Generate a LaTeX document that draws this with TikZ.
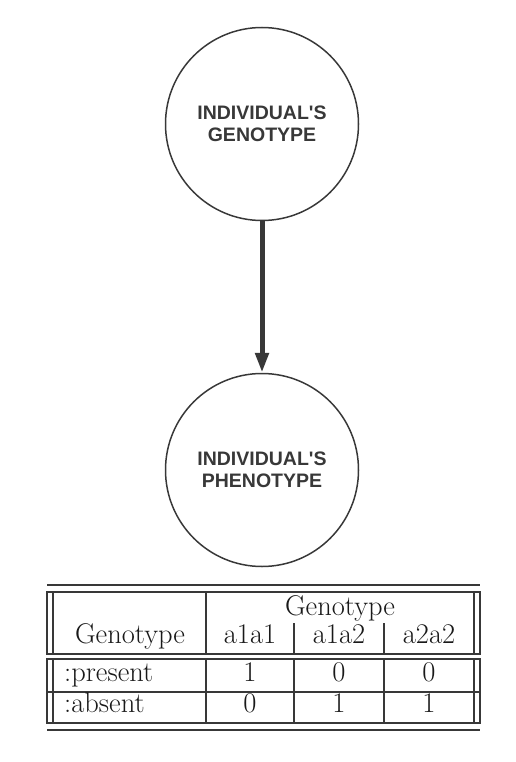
\documentclass[tikz,border=0pt]{standalone}
\usepackage{fontspec}
\newfontfamily\capsfont{Liberation Sans}
\usetikzlibrary{arrows.meta, positioning}
\definecolor{inkgrey}{HTML}{383838}
\tikzset{
  varnode/.style={
    circle, draw=inkgrey, line width=1.5pt, minimum size=193pt, inner sep=0pt,
    align=center, text=inkgrey,
    font=\capsfont\bfseries\fontsize{19.5}{22}\selectfont},
  link/.style={-{Triangle[length=20pt, width=13pt]}, draw=inkgrey, line width=5pt},
  rule/.style={draw=inkgrey, line width=1.3pt},
  cell/.style={font=\fontsize{28.5}{32}\selectfont, text=black!90, anchor=base},
}
\begin{document}
\begin{tikzpicture}[x=1pt, y=-1pt]
  \useasboundingbox (0,0) rectangle (516,762);
  \node[varnode] (geno) at (262,124) {INDIVIDUAL'S\\GENOTYPE};
  \node[varnode] (pheno) at (262,470) {INDIVIDUAL'S\\PHENOTYPE};
  \draw[link] (geno) -- (pheno);
  % table of the phenotype given the genotype
  \draw[rule] (47,585) -- (480,585);
  \draw[rule] (47,592) rectangle (480,654);
  \draw[rule] (53,592) -- (53,654) (474,592) -- (474,654) (206,592) -- (206,654);
  \draw[rule] (294,623) -- (294,654) (384,623) -- (384,654);
  \draw[rule] (47,659) rectangle (480,723);
  \draw[rule] (47,692) -- (480,692);
  \foreach \x in {53,206,294,384,474}
    \draw[rule] (\x,659) -- (\x,723);
  \draw[rule] (47,730) -- (480,730);
  \node[cell] (gtop) at (340,615) {Genotype};
  \node[cell] (glbl) at (130,643) {Genotype};
  \node[cell] (aa11) at (250,643) {a1a1};
  \node[cell] (aa12) at (339,643) {a1a2};
  \node[cell] (aa22) at (429,643) {a2a2};
  \node[cell, anchor=base west, inner sep=0pt] (pres) at (64,681) {:present};
  \node[cell, anchor=base west, inner sep=0pt] (abse) at (64,712) {:absent};
  \node[cell] (p11) at (250,681) {1};
  \node[cell] (p12) at (339,681) {0};
  \node[cell] (p22) at (429,681) {0};
  \node[cell] (a11) at (250,712) {0};
  \node[cell] (a12) at (339,712) {1};
  \node[cell] (a22) at (429,712) {1};
\end{tikzpicture}
\end{document}
